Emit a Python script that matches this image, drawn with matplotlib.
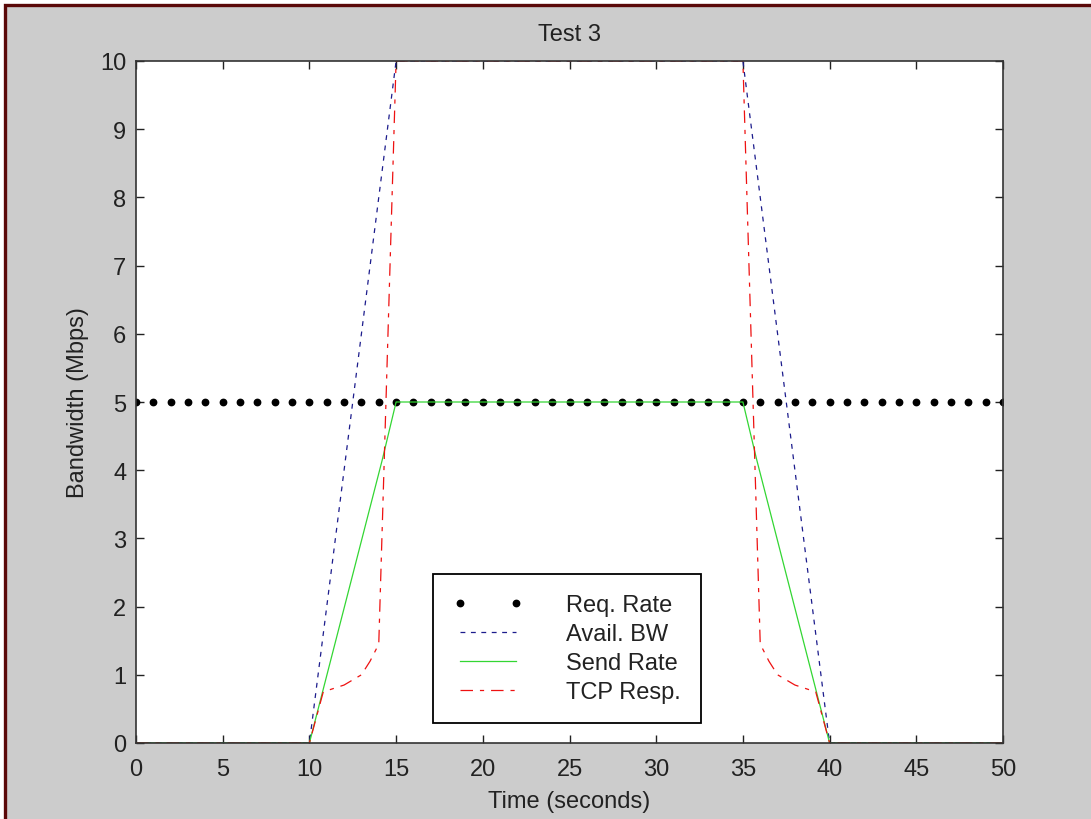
import numpy as np
import matplotlib
matplotlib.use("Agg")
import matplotlib.pyplot as plt
from matplotlib.patches import Rectangle

plt.rcParams['font.family'] = ['Liberation Sans', 'DejaVu Sans']
plt.rcParams['lines.scale_dashes'] = False

# data
req_t = np.arange(0, 51)
req_rate = np.full(len(req_t), 5.0)

avail_t = [0, 10, 15, 35, 40, 50]
avail_bw = [0, 0, 10, 10, 0, 0]

send_t = [0, 10, 14.2, 15, 35, 35.8, 40, 50]
send_rate = [0, 0, 4.15, 5, 5, 4.15, 0, 0]

tcp_t = [0, 10, 10.8, 12, 13, 13.5, 14, 15, 35, 36, 36.5, 37, 38, 39.2, 40, 50]
tcp_resp = [0, 0, 0.75, 0.85, 1.0, 1.2, 1.45, 10, 10, 1.45, 1.2, 1.0, 0.85, 0.75, 0, 0]

W, H = 1091, 820
fig = plt.figure(figsize=(W/100, H/100), dpi=100, facecolor='white')

# gray window area with dark red frame (cropped screenshot)
fig.patches.append(Rectangle((5/W, -0.05), 1.1, 1 - 6/H + 0.05, transform=fig.transFigure,
                             facecolor='#cccccc', edgecolor='#5a0808', linewidth=2.4, zorder=-10))

ax = fig.add_axes([136/W, 1 - 744/H, (1003-136)/W, (744-62)/H])
ax.set_facecolor('white')

ax.plot(req_t, req_rate, linestyle='none', marker='o', markersize=4.6, color='black', label='Req. Rate')
ax.plot(avail_t, avail_bw, color='#1c1c8c', linewidth=0.9, dashes=(3.5, 4), label='Avail. BW')
ax.plot(send_t, send_rate, color='#33d633', linewidth=0.9, label='Send Rate')
ax.plot(tcp_t, tcp_resp, color='#ee1111', linewidth=0.9, dashes=(9, 5, 3, 5), label='TCP Resp.')

ax.set_xlim(0, 50)
ax.set_ylim(0, 10)
ax.set_xticks(range(0, 51, 5))
ax.set_yticks(range(0, 11))
ax.tick_params(direction='in', length=6, width=1, top=True, right=True, labelsize=17, pad=7, colors='#222222')
ax.tick_params(axis='x', pad=11)
for s in ax.spines.values():
    s.set_color('#333333')
    s.set_linewidth(1.2)

ax.set_title('Test 3', fontsize=17, pad=15, color='#222222')
ax.set_xlabel('Time (seconds)', fontsize=17, labelpad=7, color='#222222')
ax.set_ylabel('Bandwidth (Mbps)', fontsize=17, labelpad=8, color='#222222')

leg = ax.legend(loc='upper left', bbox_to_anchor=((433-136)/867, (744-575)/682),
                borderaxespad=0, numpoints=2, handlelength=2.95, handletextpad=1.85,
                labelspacing=0.3, borderpad=0.85, fancybox=False, framealpha=1,
                edgecolor='black', fontsize=17)
leg.get_frame().set_linewidth(1.3)
for t in leg.get_texts():
    t.set_color('#222222')

fig.savefig('out.png', dpi=100, facecolor=fig.get_facecolor())
